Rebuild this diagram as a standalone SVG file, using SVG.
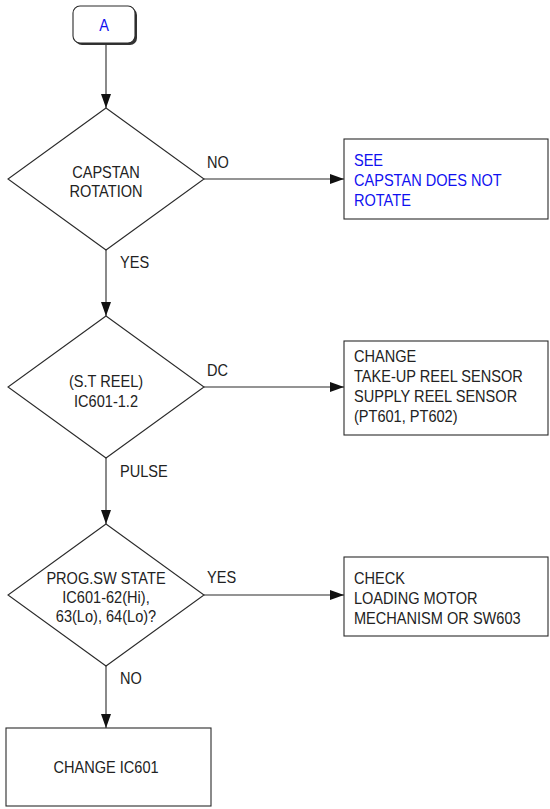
<svg xmlns="http://www.w3.org/2000/svg" width="550" height="809" viewBox="0 0 550 809">
<style>
  .shape { fill: #ffffff; stroke: #2a2a2a; stroke-width: 1.1; }
  .t { font-family: "Liberation Sans", Arial, sans-serif; font-size: 17px; fill: #222222; }
  .blue { fill: #1010f0; }
  .c { text-anchor: middle; }
  .line { stroke: #2a2a2a; stroke-width: 1.1; fill: none; marker-end: url(#arrow); }
</style>
<defs>
  <marker id="arrow" viewBox="0 0 14 10" refX="14" refY="5" markerWidth="14" markerHeight="10" markerUnits="userSpaceOnUse" orient="auto">
    <path d="M0,0 L14,5 L0,10 Z" fill="#111111"/>
  </marker>
</defs>
<rect width="550" height="809" fill="#ffffff"/>

<g id="connectors">
  <line class="line" x1="106" y1="43" x2="106" y2="108"/>
  <line class="line" x1="204" y1="179" x2="344" y2="179"/>
  <line class="line" x1="106" y1="250" x2="106" y2="316"/>
  <line class="line" x1="204" y1="387" x2="344" y2="387"/>
  <line class="line" x1="106" y1="458" x2="106" y2="524"/>
  <line class="line" x1="204" y1="595" x2="344" y2="595"/>
  <line class="line" x1="106" y1="666" x2="106" y2="728"/>
  <g transform="scale(0.857,1)">
    <text class="t" x="241.5" y="168">NO</text>
    <text class="t" x="140" y="268">YES</text>
    <text class="t" x="241.5" y="376">DC</text>
    <text class="t" x="140" y="477">PULSE</text>
    <text class="t" x="241.5" y="583">YES</text>
    <text class="t" x="140" y="684">NO</text>
  </g>
</g>

<g id="start-A">
  <rect x="75" y="8" width="62" height="37" rx="7" fill="#333333"/>
  <rect x="73" y="6" width="62" height="37" rx="7" class="shape"/>
  <g transform="scale(0.857,1)">
    <text class="t blue c" x="121.4" y="31">A</text>
  </g>
</g>

<g id="decision-capstan">
  <polygon class="shape" points="106,108 204,179 106,250 8,179"/>
  <g transform="scale(0.857,1)">
    <text class="t c" x="123.7" y="178">CAPSTAN</text>
    <text class="t c" x="123.7" y="197">ROTATION</text>
  </g>
</g>

<g id="box-see-capstan">
  <rect class="shape" x="344" y="139" width="204" height="80"/>
  <g transform="scale(0.857,1)">
    <text class="t blue" x="413" y="166">SEE</text>
    <text class="t blue" x="413" y="186">CAPSTAN DOES NOT</text>
    <text class="t blue" x="413" y="206">ROTATE</text>
  </g>
</g>

<g id="decision-reel">
  <polygon class="shape" points="106,316 204,387 106,458 8,387"/>
  <g transform="scale(0.857,1)">
    <text class="t c" x="123.7" y="387">(S.T REEL)</text>
    <text class="t c" x="123.7" y="407">IC601-1.2</text>
  </g>
</g>

<g id="box-change-sensor">
  <rect class="shape" x="344" y="341" width="204" height="94"/>
  <g transform="scale(0.857,1)">
    <text class="t" x="413" y="362">CHANGE</text>
    <text class="t" x="413" y="382">TAKE-UP REEL SENSOR</text>
    <text class="t" x="413" y="402">SUPPLY REEL SENSOR</text>
    <text class="t" x="413" y="422">(PT601, PT602)</text>
  </g>
</g>

<g id="decision-progsw">
  <polygon class="shape" points="106,524 204,595 106,666 8,595"/>
  <g transform="scale(0.857,1)">
    <text class="t c" x="123.7" y="584">PROG.SW STATE</text>
    <text class="t c" x="123.7" y="603">IC601-62(Hi),</text>
    <text class="t c" x="123.7" y="622">63(Lo), 64(Lo)?</text>
  </g>
</g>

<g id="box-check-loading">
  <rect class="shape" x="344" y="557" width="204" height="79"/>
  <g transform="scale(0.857,1)">
    <text class="t" x="413" y="584">CHECK</text>
    <text class="t" x="413" y="604">LOADING MOTOR</text>
    <text class="t" x="413" y="624">MECHANISM OR SW603</text>
  </g>
</g>

<g id="box-change-ic601">
  <rect class="shape" x="6" y="728" width="205" height="78"/>
  <g transform="scale(0.857,1)">
    <text class="t c" x="123.7" y="773">CHANGE IC601</text>
  </g>
</g>
</svg>
